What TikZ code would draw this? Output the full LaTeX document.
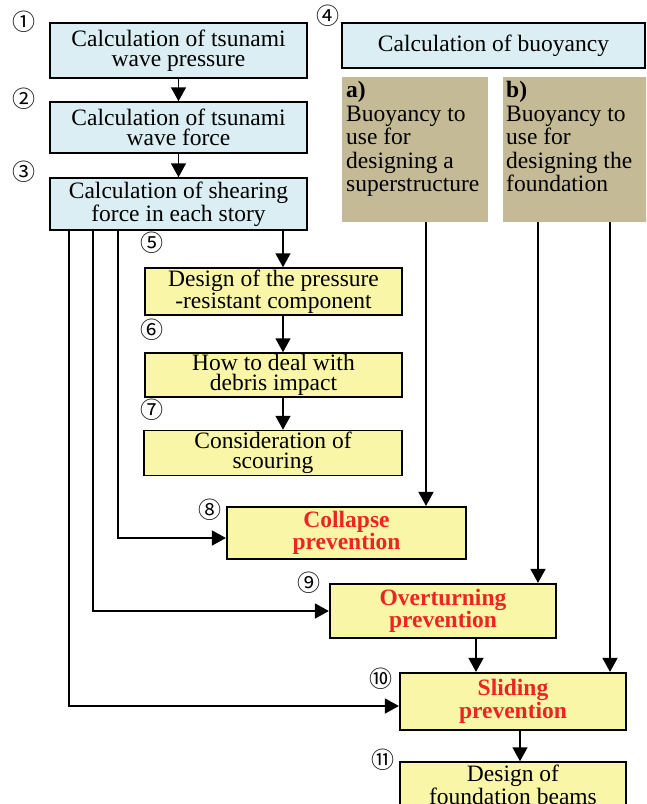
\documentclass[tikz,border=0pt]{standalone}
\usepackage{fontspec}
\setmainfont{Liberation Serif}
\newfontfamily\circfont{Noto Sans CJK JP}
\usetikzlibrary{arrows.meta}
\definecolor{boxblue}{RGB}{218,238,243}
\definecolor{boxtan}{RGB}{196,186,150}
\definecolor{boxyel}{RGB}{250,246,168}
\definecolor{textred}{RGB}{238,36,36}
\tikzset{
  box/.style={draw=black,line width=1.5pt,align=center,inner sep=0pt,font=\fontsize{23.5}{20.5}\selectfont},
  bluebox/.style={box,fill=boxblue},
  yelbox/.style={box,fill=boxyel},
  keybox/.style={yelbox,line width=2.2pt,text=textred,font=\bfseries\fontsize{23.5}{21}\selectfont},
  tanbox/.style={fill=boxtan,inner sep=0pt},
  tantext/.style={anchor=north west,align=left,inner sep=0pt,font=\fontsize{23.5}{23.5}\selectfont},
  num/.style={font=\circfont\fontsize{23}{23}\selectfont,inner sep=0pt},
  arr/.style={->,line width=1.5pt}
}
\begin{document}
\begin{tikzpicture}[x=1pt,y=-1pt,>={Triangle[width=15pt,length=14pt]}]
		\useasboundingbox (0,0) rectangle (646,804);
		\clip (0,0) rectangle (646,804);
		\node[bluebox,minimum width=257,minimum height=55] (p1) at (178.5,50.5) {Calculation of tsunami\\wave pressure};
		\node[bluebox,minimum width=257,minimum height=51] (p2) at (178.5,127.5) {Calculation of tsunami\\wave force};
		\node[bluebox,minimum width=257,minimum height=52] (p3) at (178.5,204) {Calculation of shearing\\force in each story};
		\node[bluebox,minimum width=303,minimum height=45] (p4) at (493.5,45.5) {Calculation of buoyancy};
		\node[tanbox,minimum width=146,minimum height=145] (bya) at (415,149.5) {};
		\node[tantext] (bya-t) at (346,81) {\textbf{a)}\\Buoyancy to\\use for\\designing a\\superstructure};
		\node[tanbox,minimum width=147,minimum height=145] (byb) at (576.5,149.5) {};
		\node[tantext] (byb-t) at (506,81) {\textbf{b)}\\Buoyancy to\\use for\\designing the\\foundation};
		\node[yelbox,minimum width=257,minimum height=47,font=\fontsize{23.5}{18.5}\selectfont] (d5) at (273.5,291.5) {Design of the pressure\\-resistant component};
		\node[yelbox,minimum width=257,minimum height=44] (d6) at (273.5,375) {How to deal with\\debris impact};
		\node[yelbox,minimum width=258,minimum height=45] (d7) at (273,453) {Consideration of\\scouring};
		\node[keybox,minimum width=239,minimum height=52] (c8) at (346.5,533) {Collapse\\prevention};
		\node[keybox,minimum width=226,minimum height=54] (o9) at (443,611) {Overturning\\prevention};
		\node[keybox,minimum width=226,minimum height=57] (s10) at (513,701.5) {Sliding\\prevention};
		\node[yelbox,minimum width=226,minimum height=46] (f11) at (513,785) {Design of\\foundation beams};
		% step numbers
		\node[num] (m1) at (24,22) {①};
		\node[num] (m2) at (24,99) {②};
		\node[num] (m3) at (24,172) {③};
		\node[num] (m4) at (328,16) {④};
		\node[num] (m5) at (152,243) {⑤};
		\node[num] (m6) at (152,330) {⑥};
		\node[num] (m7) at (152,410) {⑦};
		\node[num] (m8) at (210,510) {⑧};
		\node[num] (m9) at (309,583) {⑨};
		\node[num] (m10) at (381,679) {⑩};
		\node[num] (m11) at (383,760) {⑪};
		% connectors
		\draw[arr] (p1.south) -- (p2.north);
		\draw[arr] (p2.south) -- (p3.north);
		\draw[arr] ([xshift=104.5pt]p3.south) -- ([xshift=9.5pt]d5.north);
		\draw[arr] ([xshift=9.5pt]d5.south) -- ([xshift=9.5pt]d6.north);
		\draw[arr] ([xshift=9.5pt]d6.south) -- ([xshift=10pt]d7.north);
		\draw[arr] ([xshift=-60.5pt]p3.south) |- ([yshift=-5pt]c8.west);
		\draw[arr] ([xshift=-85.5pt]p3.south) |- (o9.west);
		\draw[arr] ([xshift=-109.5pt]p3.south) |- ([yshift=-4.5pt]s10.west);
		\draw[arr] ([xshift=11pt]bya.south) -- ([xshift=11pt]bya.south |- c8.north);
		\draw[arr] ([xshift=-38.5pt]byb.south) -- ([xshift=-38.5pt]byb.south |- o9.north);
		\draw[arr] ([xshift=33.5pt]byb.south) -- ([xshift=33.5pt]byb.south |- s10.north);
		\draw[arr] ([xshift=33pt]o9.south) -- ([xshift=-37pt]s10.north);
		\draw[arr] ([xshift=7pt]s10.south) -- ([xshift=7pt]f11.north);
\end{tikzpicture}
\end{document}
